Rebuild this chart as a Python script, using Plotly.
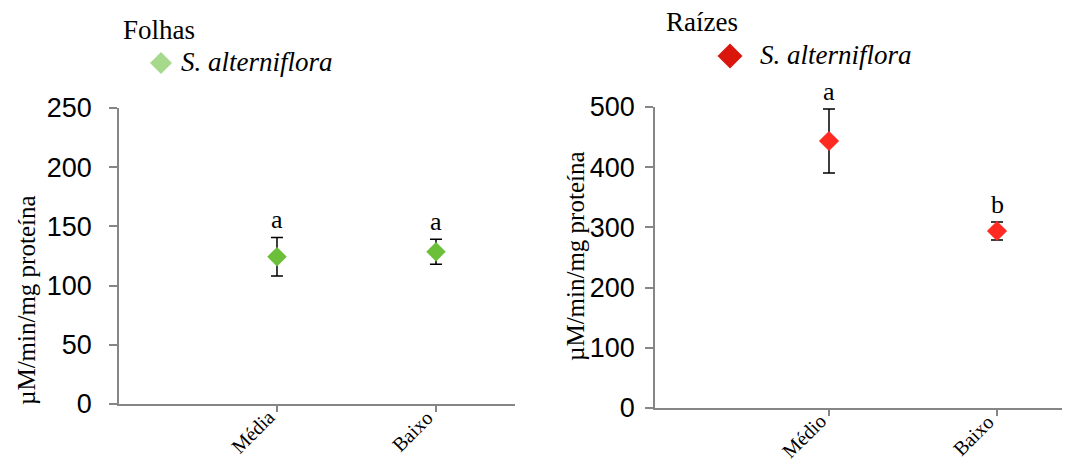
import plotly.graph_objects as go

# ---- data ----
categories_folhas = ["Média", "Baixo"]
means_folhas = [124.4, 128.6]
errors_folhas = [16.3, 10.6]
letters_folhas = ["a", "a"]

categories_raizes = ["Médio", "Baixo"]
means_raizes = [443.5, 294.0]
errors_raizes = [53.0, 15.0]
letters_raizes = ["a", "b"]

positions = [1, 2]
species = "S. alterniflora"
panel_titles = ["Folhas", "Raízes"]
y_title = "µM/min/mg proteína"

OFF = 8  # default page body margin
W, H = 1070 - OFF, 461 - OFF
SERIF = "Liberation Serif, Times New Roman, serif"
SANS = "Liberation Sans, Arial, sans-serif"
AXIS_COLOR = "#868686"


def px(x):
    return (x - OFF) / W


def py(y):
    return 1 - (y - OFF) / H


fig = go.Figure()

fig.add_trace(go.Scatter(
    x=positions, y=means_folhas, mode="markers", xaxis="x", yaxis="y",
    marker=dict(symbol="diamond", size=15, color="#6cbf38", line=dict(width=0)),
    error_y=dict(type="data", array=errors_folhas, visible=True,
                 color="black", thickness=1.5, width=6),
    showlegend=False, name=species,
))
fig.add_trace(go.Scatter(
    x=positions, y=means_raizes, mode="markers", xaxis="x2", yaxis="y2",
    marker=dict(symbol="diamond", size=15.5, color="#ff2b22", line=dict(width=0)),
    error_y=dict(type="data", array=errors_raizes, visible=True,
                 color="black", thickness=1.5, width=6),
    showlegend=False, name=species,
))

common_x = dict(
    showline=True, linecolor=AXIS_COLOR, linewidth=1.5,
    ticks="outside", ticklen=6, tickcolor=AXIS_COLOR, tickwidth=1.5,
    showgrid=False, zeroline=False, automargin=False,
    tickvals=positions, showticklabels=False,
)
common_y = dict(
    showline=True, linecolor=AXIS_COLOR, linewidth=1.5,
    ticks="outside", ticklen=8, tickcolor=AXIS_COLOR, tickwidth=1.5,
    showgrid=False, zeroline=False, automargin=False,
    tickfont=dict(family=SANS, size=27, color="black"),
)

fig.update_layout(
    width=W, height=H, autosize=False,
    margin=dict(l=0, r=0, t=0, b=0, pad=0),
    paper_bgcolor="white", plot_bgcolor="white",
    xaxis=dict(domain=[px(119), px(515)], range=[0.0063, 2.497],
               anchor="y", **common_x),
    yaxis=dict(domain=[py(404), py(108)], range=[0, 250], dtick=50,
               anchor="x", ticklabelstandoff=12, **common_y),
    xaxis2=dict(domain=[px(655), 1.0], range=[-0.0357, 2.4345],
                anchor="y2", **common_x),
    yaxis2=dict(domain=[py(408), py(107)], range=[0, 500], dtick=100,
                anchor="x2", ticklabelstandoff=5, **common_y),
)

annotations = []
# category labels (rotated, ending at the tick)
for cats, xr, yr in [(categories_folhas, "x", "y"), (categories_raizes, "x2", "y2")]:
    for xv, cat in zip(positions, cats):
        annotations.append(dict(
            x=xv, y=0, xref=xr, yref=yr, text=cat, showarrow=False,
            textangle=-45, xanchor="right", yanchor="top",
            xshift=4, yshift=1,
            font=dict(family=SERIF, size=20, color="black"),
        ))

# significance letters
for xs, ys, es, ls, xr, yr in [
    (positions, means_folhas, errors_folhas, letters_folhas, "x", "y"),
    (positions, means_raizes, errors_raizes, letters_raizes, "x2", "y2"),
]:
    for xv, yv, ev, lt in zip(xs, ys, es, ls):
        annotations.append(dict(
            x=xv, y=yv + ev, xref=xr, yref=yr, text=lt, showarrow=False,
            yanchor="bottom", xanchor="center", yshift=1,
            font=dict(family=SERIF, size=26, color="black"),
        ))

# y titles
for xc, yc in [(26, 300), (575, 256)]:
    annotations.append(dict(
        x=px(xc), y=py(yc), xref="paper", yref="paper", text=y_title,
        textangle=-90, showarrow=False, xanchor="center", yanchor="middle",
        font=dict(family=SERIF, size=25, color="black"),
    ))

# panel titles and legend texts
for title, tx, ty, lx, ly in [
    (panel_titles[0], 121, 30, 179, 62),
    (panel_titles[1], 664, 22, 758, 55),
]:
    annotations.append(dict(
        x=px(tx), y=py(ty), xref="paper", yref="paper", text=title,
        showarrow=False, xanchor="left", yanchor="middle",
        font=dict(family=SERIF, size=27, color="black"),
    ))
    annotations.append(dict(
        x=px(lx), y=py(ly), xref="paper", yref="paper",
        text="<i>" + species + "</i>",
        showarrow=False, xanchor="left", yanchor="middle",
        font=dict(family=SERIF, size=27, color="black"),
    ))

fig.update_layout(annotations=annotations)

# legend diamonds
shapes = []
for cx, cy, hw, col in [(161, 63, 11, "#a7d98c"), (730, 56, 12.5, "#d9150c")]:
    path = (f"M {px(cx - hw)} {py(cy)} L {px(cx)} {py(cy - hw)} "
            f"L {px(cx + hw)} {py(cy)} L {px(cx)} {py(cy + hw)} Z")
    shapes.append(dict(type="path", path=path, xref="paper", yref="paper",
                       fillcolor=col, line=dict(width=0)))
fig.update_layout(shapes=shapes)

fig.write_html("out.html")
